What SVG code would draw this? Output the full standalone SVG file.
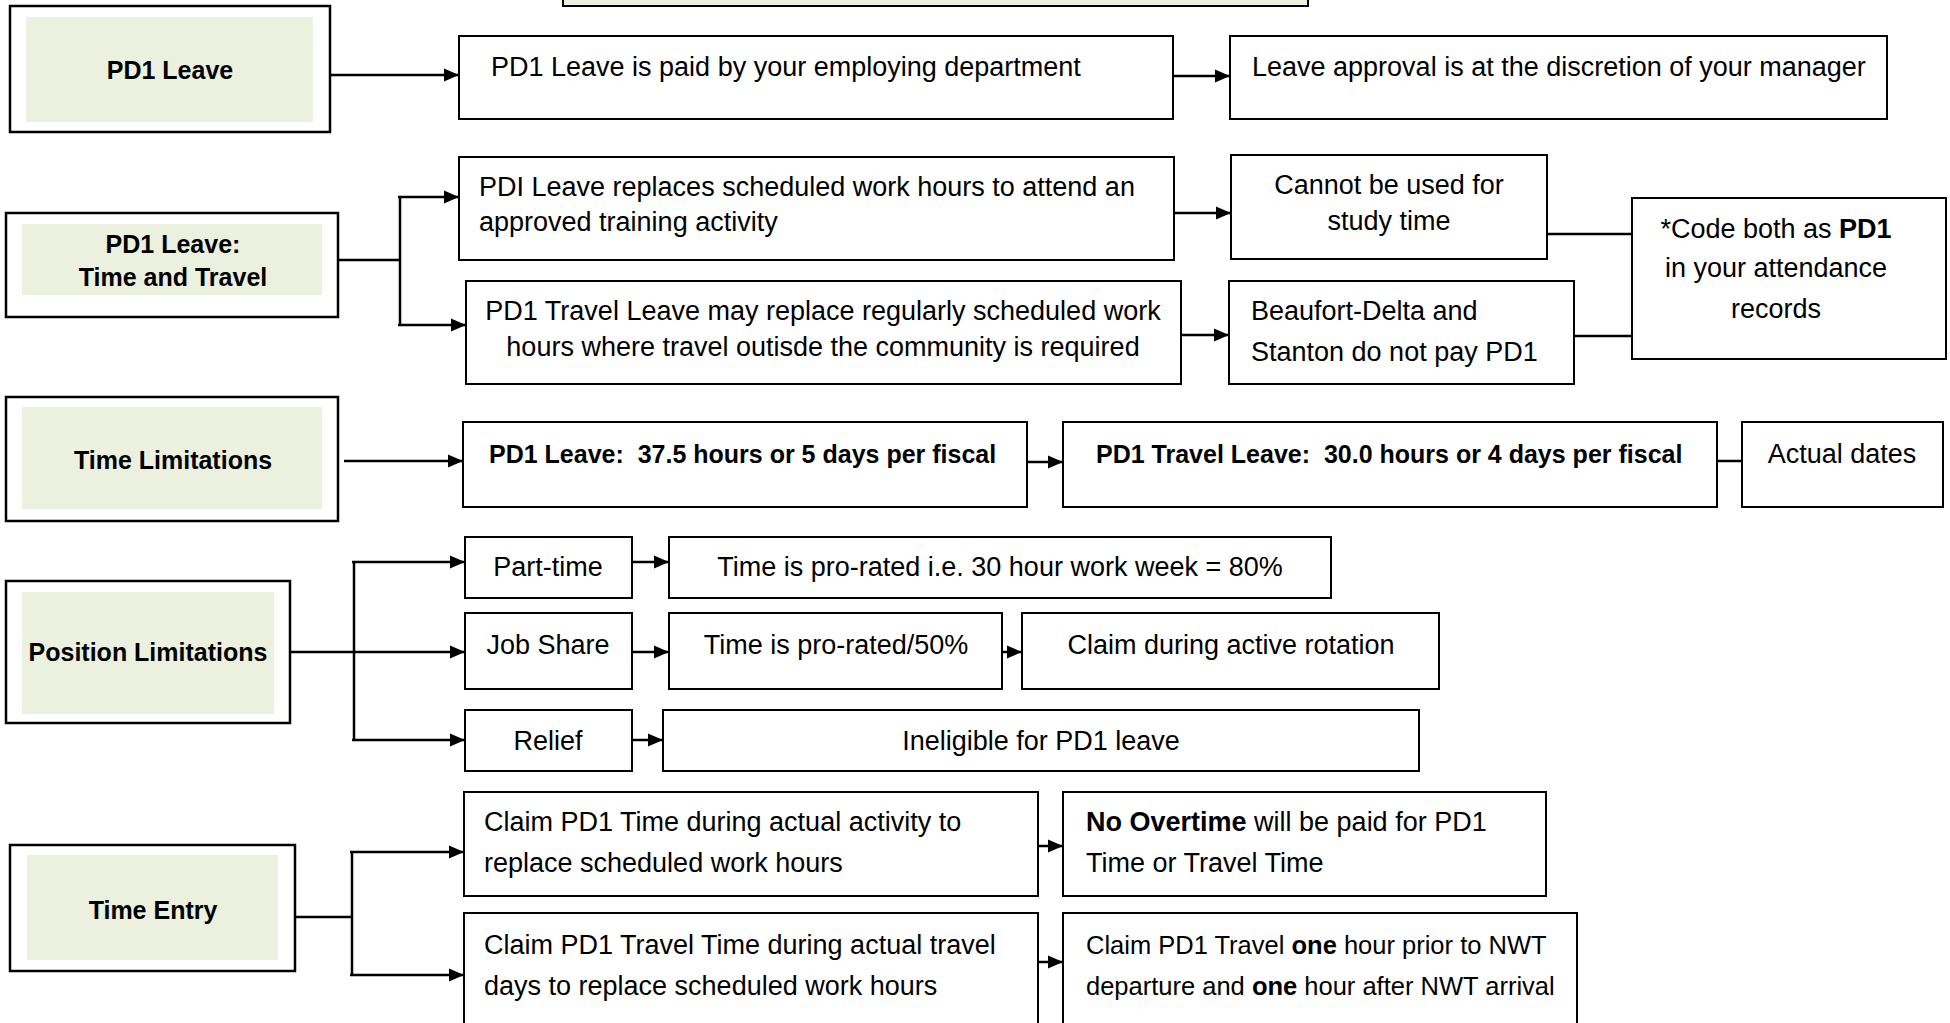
<svg xmlns="http://www.w3.org/2000/svg" width="1950" height="1023" viewBox="0 0 1950 1023">
<defs>
<style>
.bg{fill:#fff}
.box{fill:#fff;stroke:#000;stroke-width:2}
.outer{fill:#fff;stroke:#000;stroke-width:2.5}
.green{fill:#EBF1DE}
.t{font-family:"Liberation Sans",Arial,sans-serif;font-size:27px;fill:#000}
.ts{font-size:25.5px}
.tb{font-family:"Liberation Sans",Arial,sans-serif;font-size:25px;font-weight:bold;fill:#000}
.b{font-weight:bold}
.c{text-anchor:middle}
.conn{stroke:#000;stroke-width:2.5;fill:none}
</style>
<marker id="ah" markerUnits="userSpaceOnUse" markerWidth="16" markerHeight="14" refX="15" refY="7" orient="auto">
<path d="M0,0.5 L15,7 L0,13.5 z" fill="#000"/>
</marker>
</defs>
<rect class="bg" x="0" y="0" width="1950" height="1023"/>

<g id="top-box">
<rect x="563" y="-10" width="745" height="16" fill="#EBF1DE" stroke="#000" stroke-width="2"/>
</g>

<g id="connectors">
<path class="conn" d="M330,75 H459" marker-end="url(#ah)"/>
<path class="conn" d="M1173,76 H1230" marker-end="url(#ah)"/>
<path class="conn" d="M338,260 H400 M400,197 V325"/>
<path class="conn" d="M398,197 H459" marker-end="url(#ah)"/>
<path class="conn" d="M398,325 H466" marker-end="url(#ah)"/>
<path class="conn" d="M1174,213 H1231" marker-end="url(#ah)"/>
<path class="conn" d="M1181,335 H1229" marker-end="url(#ah)"/>
<path class="conn" d="M1547,234 H1632 M1574,336 H1632"/>
<path class="conn" d="M344,461 H463" marker-end="url(#ah)"/>
<path class="conn" d="M1027,462 H1063" marker-end="url(#ah)"/>
<path class="conn" d="M1717,461 H1742"/>
<path class="conn" d="M290,652 H465" marker-end="url(#ah)"/>
<path class="conn" d="M354,562 V740"/>
<path class="conn" d="M352,562 H465" marker-end="url(#ah)"/>
<path class="conn" d="M352,740 H465" marker-end="url(#ah)"/>
<path class="conn" d="M632,562 H669" marker-end="url(#ah)"/>
<path class="conn" d="M632,652 H669" marker-end="url(#ah)"/>
<path class="conn" d="M1002,652 H1022" marker-end="url(#ah)"/>
<path class="conn" d="M632,740 H663" marker-end="url(#ah)"/>
<path class="conn" d="M295,917 H352 M352,852 V975"/>
<path class="conn" d="M350,852 H464" marker-end="url(#ah)"/>
<path class="conn" d="M350,975 H464" marker-end="url(#ah)"/>
<path class="conn" d="M1038,846 H1063" marker-end="url(#ah)"/>
<path class="conn" d="M1038,962 H1063" marker-end="url(#ah)"/>
</g>

<g id="n-pd1-leave">
<rect class="outer" x="10" y="6" width="320" height="126"/>
<rect class="green" x="26" y="17" width="287" height="105"/>
<text class="tb c" x="170" y="79">PD1 Leave</text>
</g>
<g id="n-time-travel">
<rect class="outer" x="6" y="213" width="332" height="104"/>
<rect class="green" x="22" y="224" width="300" height="71"/>
<text class="tb c" x="173" y="253">PD1 Leave:</text>
<text class="tb c" x="173" y="286">Time and Travel</text>
</g>
<g id="n-time-limitations">
<rect class="outer" x="6" y="397" width="332" height="124"/>
<rect class="green" x="22" y="407" width="300" height="102"/>
<text class="tb c" x="173" y="469">Time Limitations</text>
</g>
<g id="n-position-limitations">
<rect class="outer" x="6" y="581" width="284" height="142"/>
<rect class="green" x="22" y="592" width="252" height="122"/>
<text class="tb c" x="148" y="661">Position Limitations</text>
</g>
<g id="n-time-entry">
<rect class="outer" x="10" y="845" width="285" height="126"/>
<rect class="green" x="27" y="855" width="251" height="105"/>
<text class="tb c" x="153" y="919">Time Entry</text>
</g>

<g id="b-paid">
<rect class="box" x="459" y="36" width="714" height="83"/>
<text class="t" x="491" y="76">PD1 Leave is paid by your employing department</text>
</g>
<g id="b-approval">
<rect class="box" x="1230" y="36" width="657" height="83"/>
<text class="t" x="1252" y="76">Leave approval is at the discretion of your manager</text>
</g>
<g id="b-replaces">
<rect class="box" x="459" y="157" width="715" height="103"/>
<text class="t" x="479" y="196">PDI Leave replaces scheduled work hours to attend an</text>
<text class="t" x="479" y="231">approved training activity</text>
</g>
<g id="b-travel-leave">
<rect class="box" x="466" y="281" width="715" height="103"/>
<text class="t c" x="823" y="320">PD1 Travel Leave may replace regularly scheduled work</text>
<text class="t c" x="823" y="356">hours where travel outisde the community is required</text>
</g>
<g id="b-study">
<rect class="box" x="1231" y="155" width="316" height="104"/>
<text class="t c" x="1389" y="194">Cannot be used for</text>
<text class="t c" x="1389" y="230">study time</text>
</g>
<g id="b-beaufort">
<rect class="box" x="1229" y="281" width="345" height="103"/>
<text class="t" x="1251" y="320">Beaufort-Delta and</text>
<text class="t" x="1251" y="361">Stanton do not pay PD1</text>
</g>
<g id="b-code">
<rect class="box" x="1632" y="198" width="314" height="161"/>
<text class="t c" x="1776" y="238">*Code both as <tspan class="b">PD1</tspan></text>
<text class="t c" x="1776" y="277">in your attendance</text>
<text class="t c" x="1776" y="318">records</text>
</g>
<g id="b-leave-limit">
<rect class="box" x="463" y="422" width="564" height="85"/>
<text class="tb" x="489" y="463">PD1 Leave:&#160; 37.5 hours or 5 days per fiscal</text>
</g>
<g id="b-travel-limit">
<rect class="box" x="1063" y="422" width="654" height="85"/>
<text class="tb" x="1096" y="463">PD1 Travel Leave:&#160; 30.0 hours or 4 days per fiscal</text>
</g>
<g id="b-actual">
<rect class="box" x="1742" y="422" width="201" height="85"/>
<text class="t c" x="1842" y="463">Actual dates</text>
</g>
<g id="b-part-time">
<rect class="box" x="465" y="537" width="167" height="61"/>
<text class="t c" x="548" y="576">Part-time</text>
</g>
<g id="b-pro80">
<rect class="box" x="669" y="537" width="662" height="61"/>
<text class="t c" x="1000" y="576">Time is pro-rated i.e. 30 hour work week = 80%</text>
</g>
<g id="b-job-share">
<rect class="box" x="465" y="613" width="167" height="76"/>
<text class="t c" x="548" y="654">Job Share</text>
</g>
<g id="b-pro50">
<rect class="box" x="669" y="613" width="333" height="76"/>
<text class="t c" x="836" y="654">Time is pro-rated/50%</text>
</g>
<g id="b-rotation">
<rect class="box" x="1022" y="613" width="417" height="76"/>
<text class="t c" x="1231" y="654">Claim during active rotation</text>
</g>
<g id="b-relief">
<rect class="box" x="465" y="710" width="167" height="61"/>
<text class="t c" x="548" y="750">Relief</text>
</g>
<g id="b-ineligible">
<rect class="box" x="663" y="710" width="756" height="61"/>
<text class="t c" x="1041" y="750">Ineligible for PD1 leave</text>
</g>
<g id="b-claim-time">
<rect class="box" x="464" y="792" width="574" height="104"/>
<text class="t" x="484" y="831">Claim PD1 Time during actual activity to</text>
<text class="t" x="484" y="872">replace scheduled work hours</text>
</g>
<g id="b-claim-travel">
<rect class="box" x="464" y="913" width="574" height="120"/>
<text class="t" x="484" y="954">Claim PD1 Travel Time during actual travel</text>
<text class="t" x="484" y="995">days to replace scheduled work hours</text>
</g>
<g id="b-overtime">
<rect class="box" x="1063" y="792" width="483" height="104"/>
<text class="t" x="1086" y="831"><tspan class="b">No Overtime</tspan> will be paid for PD1</text>
<text class="t" x="1086" y="872">Time or Travel Time</text>
</g>
<g id="b-one-hour">
<rect class="box" x="1063" y="913" width="514" height="120"/>
<text class="t ts" x="1086" y="954">Claim PD1 Travel <tspan class="b">one</tspan> hour prior to NWT</text>
<text class="t ts" x="1086" y="995">departure and <tspan class="b">one</tspan> hour after NWT arrival</text>
</g>
</svg>
